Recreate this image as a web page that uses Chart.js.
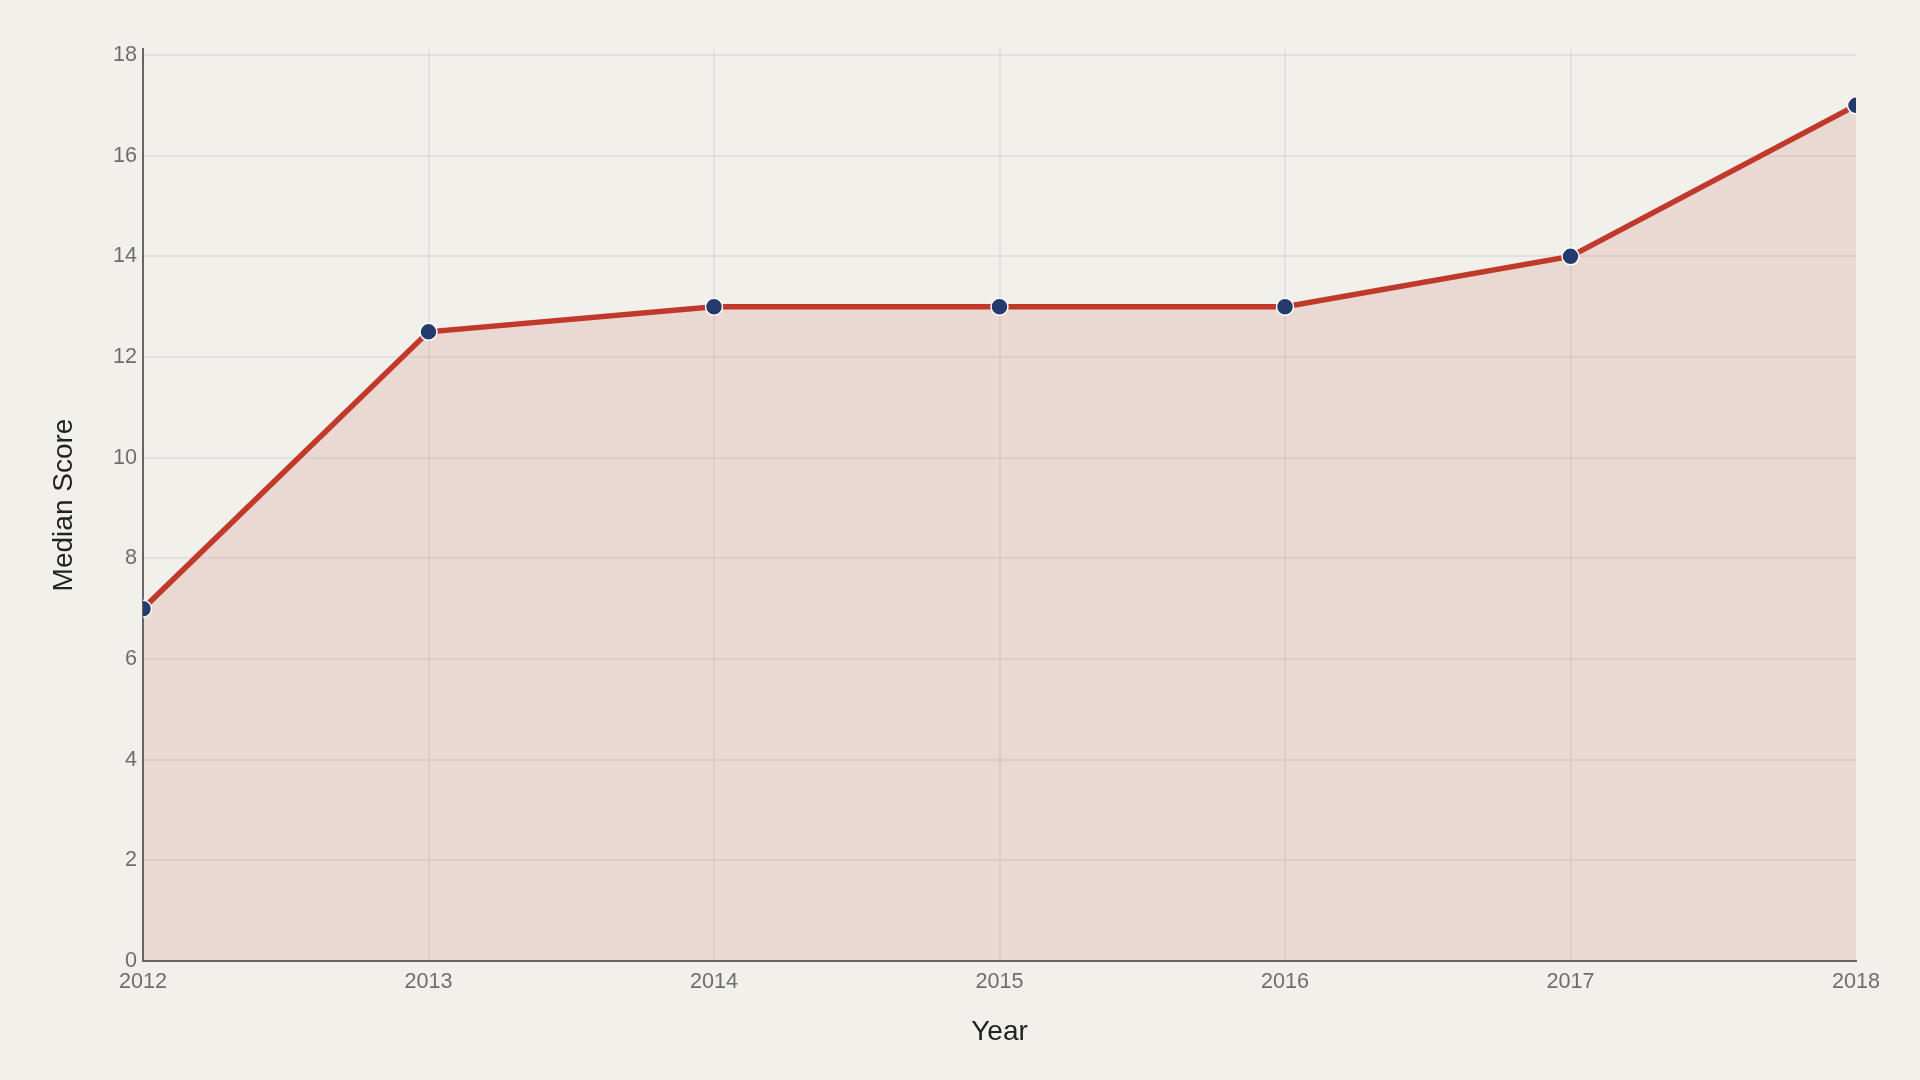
<!DOCTYPE html>
<html>
<head>
<meta charset="utf-8">
<script src="https://cdn.jsdelivr.net/npm/chart.js@4.4.1/dist/chart.umd.min.js"></script>
<style>
  html, body { margin: 0; padding: 0; background: #f1f0eb; }
  #wrap { width: 1920px; height: 1080px; position: relative; }
</style>
</head>
<body>
<div id="wrap"><canvas id="chart"></canvas></div>
<script>
// data
const years = ['2012', '2013', '2014', '2015', '2016', '2017', '2018'];
const medianScores = [7, 12.5, 13, 13, 13, 14, 17];
const yTicks = [0, 2, 4, 6, 8, 10, 12, 14, 16, 18];

const fontFamily = '"Liberation Sans", Arial, sans-serif';
const gridColor = 'rgba(0, 0, 0, 0.055)';

new Chart(document.getElementById('chart'), {
    type: 'line',
    data: {
        labels: years,
        datasets: [{
            label: 'Median Score',
            data: medianScores,
            borderColor: '#c0392b',
            borderWidth: 5.5,
            backgroundColor: 'rgba(192, 57, 43, 0.12)',
            fill: 'origin',
            tension: 0,
            pointRadius: 8.5,
            pointHoverRadius: 8.5,
            pointBackgroundColor: '#253b6e',
            pointBorderColor: '#ffffff',
            pointBorderWidth: 1.5,
            clip: 0
        }]
    },
    options: {
        responsive: true,
        maintainAspectRatio: false,
        animation: false,
        layout: {
            padding: { top: 49, right: 64, bottom: 0, left: 0 }
        },
        plugins: {
            legend: { display: false },
            tooltip: { enabled: false }
        },
        scales: {
            x: {
                type: 'category',
                offset: false,
                grid: {
                    // no grid line on the last category, as in the reference
                    color: ctx => ctx.index === years.length - 1 ? 'rgba(0,0,0,0)' : gridColor,
                    lineWidth: 2,
                    drawTicks: false
                },
                border: { color: '#666666', width: 2 },
                ticks: {
                    color: '#6e6e6e',
                    font: { family: fontFamily, size: 21.6 },
                    padding: 8,
                    maxRotation: 0
                },
                title: {
                    display: true,
                    text: 'Year',
                    color: '#222222',
                    font: { family: fontFamily, size: 28 },
                    padding: { top: 0, bottom: 31 }
                },
                afterFit: function(scale) { scale.height = 119; }
            },
            y: {
                min: 0,
                max: 18.12,
                grid: {
                    color: gridColor,
                    lineWidth: 2,
                    drawTicks: false
                },
                border: { color: '#666666', width: 2 },
                ticks: {
                    color: '#6e6e6e',
                    font: { family: fontFamily, size: 21.6 },
                    padding: 6,
                    stepSize: 2
                },
                afterBuildTicks: function(scale) {
                    scale.ticks = yTicks.map(v => ({ value: v }));
                },
                title: {
                    display: true,
                    text: 'Median Score',
                    color: '#222222',
                    font: { family: fontFamily, size: 28 },
                    padding: { top: 47, bottom: 0 }
                },
                afterFit: function(scale) { scale.width = 143; }
            }
        }
    }
});
</script>
</body>
</html>
